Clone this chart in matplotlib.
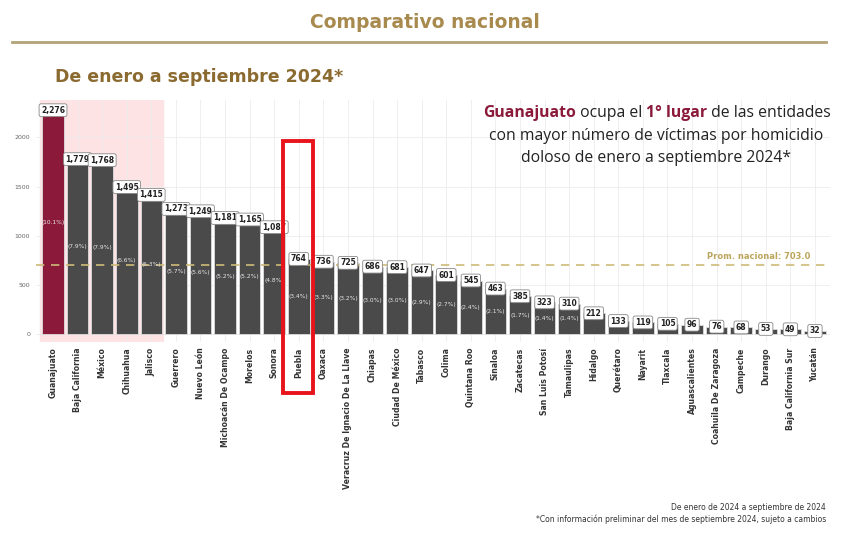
import matplotlib.pyplot as plt
from matplotlib.patches import Rectangle
from matplotlib.lines import Line2D

states = ["Guanajuato", "Baja California", "México", "Chihuahua", "Jalisco", "Guerrero",
          "Nuevo León", "Michoacán De Ocampo", "Morelos", "Sonora", "Puebla", "Oaxaca",
          "Veracruz De Ignacio De La Llave", "Chiapas", "Ciudad De México", "Tabasco",
          "Colima", "Quintana Roo", "Sinaloa", "Zacatecas", "San Luis Potosí", "Tamaulipas",
          "Hidalgo", "Querétaro", "Nayarit", "Tlaxcala", "Aguascalientes",
          "Coahuila De Zaragoza", "Campeche", "Durango", "Baja California Sur", "Yucatán"]
victims = [2276, 1779, 1768, 1495, 1415, 1273, 1249, 1181, 1165, 1087, 764, 736,
           725, 686, 681, 647, 601, 545, 463, 385, 323, 310,
           212, 133, 119, 105, 96, 76, 68, 53, 49, 32]
# percentages shown inside the bars (only the first 22 carry one)
shares = [10.1, 7.9, 7.9, 6.6, 6.3, 5.7, 5.6, 5.2, 5.2, 4.8, 3.4, 3.3,
          3.2, 3.0, 3.0, 2.9, 2.7, 2.4, 2.1, 1.7, 1.4, 1.4]
national_avg = 703.0
yticks = [0, 500, 1000, 1500, 2000]

gold = "#a88a4e"
maroon = "#8b1a3a"
bar_gray = "#4a4a4a"
dark = "#222222"

fig = plt.figure(figsize=(8.49, 5.38), dpi=100)
ax = fig.add_axes([35.8 / 849, 1 - 342 / 538, (829.7 - 35.8) / 849, 242 / 538])

x = list(range(len(states)))
colors = [maroon] + [bar_gray] * (len(states) - 1)

ax.axvspan(-0.53, 4.47, color="#fde3e3", zorder=0)
ax.bar(x, victims, width=0.88, color=colors, edgecolor="#dddddd", linewidth=0.6, zorder=2)

for i, v in enumerate(victims):
    ax.text(i, v, f"{v:,}", ha="center", va="center", fontsize=5.5, fontweight="bold",
            color=dark, zorder=4,
            bbox=dict(boxstyle="round,pad=0.25", fc="white", ec="#888888", lw=0.6))
for i, p in enumerate(shares):
    ax.text(i, victims[i] / 2, f"({p:.1f}%)", ha="center", va="center", fontsize=4.2,
            color="#e8e8e8", zorder=4)

ax.axhline(national_avg, color="#cdbb78", ls=(0, (5, 4)), lw=1.2, zorder=3)
ax.text(30.8, national_avg + 45, f"Prom. nacional: {national_avg:.1f}", ha="right",
        va="bottom", fontsize=6, color="#bba55c", fontweight="bold", zorder=4)

ax.set_xlim(-0.7, 31.6)
ax.set_ylim(-80, 2380)
ax.set_yticks(yticks)
ax.set_yticklabels([str(t) for t in yticks], fontsize=4.5, color="#666666")
ax.set_xticks(x)
ax.set_xticklabels(states, rotation=90, fontsize=5.6, fontweight="bold", color="#333333")
ax.tick_params(length=0, pad=4)
ax.grid(True, color="#ececec", lw=0.6, zorder=1)
ax.set_axisbelow(True)
for s in ax.spines.values():
    s.set_visible(False)

# header
fig.text(0.5, 1 - 22 / 538, "Comparativo nacional", ha="center", va="center",
         fontsize=13.5, fontweight="bold", color=gold)
fig.add_artist(Line2D([12 / 849, 826 / 849], [1 - 42 / 538, 1 - 42 / 538],
                      color="#b3a27a", lw=2))
fig.text(55 / 849, 1 - 77 / 538, "De enero a septiembre 2024*", ha="left", va="center",
         fontsize=12.5, fontweight="bold", color="#8b6a30")

# annotation, first line has bold maroon pieces
fs = 11.3
t = fig.text(483 / 849, 1 - 121 / 538, "Guanajuato", fontsize=fs, fontweight="bold",
             color=maroon, va="bottom", family="Open Sans")
for txt, bold in [(" ocupa el ", False), ("1° lugar", True), (" de las entidades", False)]:
    t = ax.annotate(txt, xy=(1, 0), xycoords=t, va="bottom", ha="left",
                    fontsize=fs, fontweight="bold" if bold else "normal",
                    color=maroon if bold else dark, family="Open Sans",
                    annotation_clip=False)
fig.text(656 / 849, 1 - 136 / 538, "con mayor número de víctimas por homicidio",
         ha="center", va="center", fontsize=fs, color=dark, family="Open Sans")
fig.text(656 / 849, 1 - 158 / 538, "doloso de enero a septiembre 2024*",
         ha="center", va="center", fontsize=fs, color=dark, family="Open Sans")

# highlight box around Puebla
fig.add_artist(Rectangle((283 / 849, 1 - 393 / 538), 30 / 849, 252 / 538,
                         fill=False, ec="#e8141c", lw=2.8))

# footnotes
fig.text(826 / 849, 1 - 507 / 538, "De enero de 2024 a septiembre de 2024",
         ha="right", va="center", fontsize=5.5, color="#333333")
fig.text(826 / 849, 1 - 519 / 538,
         "*Con información preliminar del mes de septiembre 2024, sujeto a cambios",
         ha="right", va="center", fontsize=5.5, color="#333333")

fig.savefig("out.png")
